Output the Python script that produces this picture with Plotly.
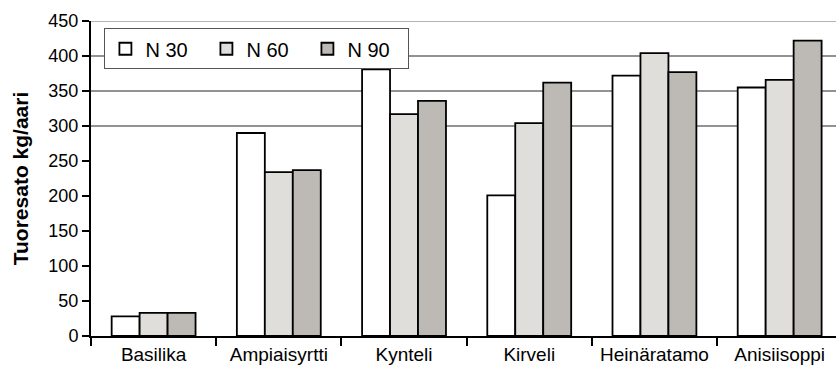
import plotly.graph_objects as go

# Fresh yield (kg/are) of six herbs at three nitrogen levels
categories = ["Basilika", "Ampiaisyrtti", "Kynteli", "Kirveli", "Heinäratamo", "Anisiisoppi"]
n30 = [28, 290, 381, 201, 372, 355]
n60 = [33, 234, 317, 304, 404, 366]
n90 = [33, 237, 336, 362, 377, 422]
series_names = ["N 30", "N 60", "N 90"]
series_colors = ["#ffffff", "#e0dedb", "#bdbab5"]

y_ticks = [0, 50, 100, 150, 200, 250, 300, 350, 400, 450]
grid_levels = [300, 350, 400]
y_top = 450

FONT = "Liberation Sans, Arial, Helvetica, sans-serif"

fig = go.Figure()
for name, vals, color in zip(series_names, [n30, n60, n90], series_colors):
    fig.add_trace(go.Bar(
        name=name,
        x=categories,
        y=vals,
        marker=dict(color=color, line=dict(color="#000000", width=1.8)),
    ))

shapes = []
for level in grid_levels:
    shapes.append(dict(type="line", xref="paper", yref="y", x0=0, x1=1, y0=level, y1=level,
                       line=dict(color="#6e6e6e", width=1.6), layer="below"))
shapes.append(dict(type="line", xref="paper", yref="y", x0=0, x1=1, y0=y_top, y1=y_top,
                   line=dict(color="#b4b4b4", width=2), layer="below"))

fig.update_layout(
    width=836,
    height=373,
    margin=dict(l=91, r=0, t=21, b=37),
    paper_bgcolor="white",
    plot_bgcolor="white",
    barmode="group",
    bargap=0.33,
    bargroupgap=0,
    font=dict(family=FONT, color="#000000"),
    shapes=shapes,
    showlegend=True,
    legend=dict(
        orientation="h",
        x=0.018, y=0.977, xanchor="left", yanchor="top",
        bgcolor="white", bordercolor="#555555", borderwidth=1,
        font=dict(size=20, family=FONT),
        entrywidth=56, entrywidthmode="pixels",
        itemclick=False,
    ),
    xaxis=dict(
        type="category",
        range=[-0.5, 5.45],
        tickson="boundaries",
        ticks="outside", ticklen=8, tickwidth=2, tickcolor="#000000",
        showline=True, linecolor="#000000", linewidth=2,
        showgrid=False,
        tickfont=dict(size=19, family=FONT),
        fixedrange=True,
    ),
    yaxis=dict(
        range=[0, 450],
        tickvals=y_ticks,
        ticks="outside", ticklen=7, tickwidth=2, tickcolor="#000000",
        showline=True, linecolor="#000000", linewidth=2,
        showgrid=False, zeroline=False,
        tickfont=dict(size=18, family=FONT),
        title=dict(text="<b>Tuoresato kg/aari</b>", font=dict(size=21, family=FONT), standoff=14),
        fixedrange=True,
    ),
)

fig.write_html("out.html")
